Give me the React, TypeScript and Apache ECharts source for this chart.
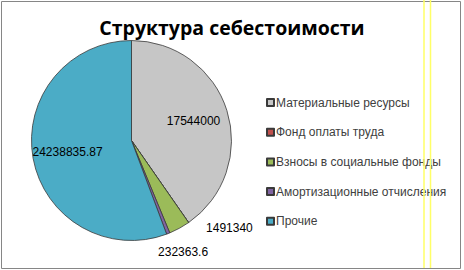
import React, { useEffect, useRef } from "react";
import * as echarts from "echarts";

const titleText = "Структура себестоимости";
const categories = [
  "Материальные ресурсы",
  "Фонд оплаты труда",
  "Взносы в социальные фонды",
  "Амортизационные отчисления",
  "Прочие",
];
const values = [17544000, 0, 1491340, 232363.6, 24238835.87];
const labelTexts = ["17544000", "", "1491340", "232363.6", "24238835.87"];
const colors = ["#c6c6c6", "#c0504d", "#9bbb59", "#8064a2", "#4bacc6"];
// which labels sit inside the slices, which outside
const insideLabel = [true, false, false, false, true];
const outsideLabel = [false, false, true, true, false];
const outsideOffsets: [number, number][] = [[0, 0], [0, 0], [37, -24], [5, -7], [0, 0]];

const FONT = "'Liberation Sans', Arial, sans-serif";

export default function App() {
  const ref = useRef<HTMLDivElement>(null);
  useEffect(() => {
    document.body.style.margin = "0";
    const chart = echarts.init(ref.current!, null, { renderer: "svg" });
    const center = [131.5, 140.5];
    const R = 100;
    const labelBase = { fontFamily: FONT, fontSize: 12, color: "#000", align: "center" };
    chart.setOption({
      animation: false,
      backgroundColor: "#ffffff",
      title: {
        text: titleText,
        left: 227,
        top: 12,
        textAlign: "center",
        textStyle: { fontFamily: "'Open Sans', sans-serif", fontWeight: "bold", fontSize: 19.5, color: "#000" },
      },
      legend: {
        orient: "vertical",
        left: 266,
        top: 96.5,
        padding: 0,
        itemWidth: 7,
        itemHeight: 7,
        itemGap: 17.7,
        icon: "rect",
        data: categories,
        selectedMode: false,
        textStyle: { fontFamily: FONT, fontSize: 12, color: "#404040", padding: [0, 0, 0, -3] },
      },
      graphic: [
        {
          type: "rect",
          shape: { x: 1.5, y: 1.5, width: 459, height: 267 },
          style: { fill: "none", stroke: "#868686", lineWidth: 1 },
          silent: true,
          z: 100,
        },
        {
          type: "line",
          shape: { x1: 424, y1: 0, x2: 424, y2: 268 },
          style: { stroke: "#ffff66", lineWidth: 1.5 },
          silent: true,
          z: 101,
        },
        {
          type: "line",
          shape: { x1: 430.5, y1: 0, x2: 430.5, y2: 268 },
          style: { stroke: "#ffff66", lineWidth: 1.5 },
          silent: true,
          z: 101,
        },
      ],
      series: [
        {
          type: "pie",
          center,
          radius: [0, R],
          startAngle: 90,
          clockwise: true,
          avoidLabelOverlap: false,
          label: { show: false },
          labelLine: { show: false },
          itemStyle: { borderColor: "#3a3a3a", borderWidth: 0.8 },
          emphasis: { disabled: true },
          data: categories.map((name, i) => ({
            name,
            value: values[i],
            itemStyle: { color: colors[i] },
          })),
        },
        {
          // transparent ring that carries the inside labels
          type: "pie",
          center,
          radius: [R * 0.24, R],
          startAngle: 90,
          clockwise: true,
          silent: true,
          avoidLabelOverlap: false,
          itemStyle: { color: "transparent", borderWidth: 0 },
          emphasis: { disabled: true },
          labelLine: { show: false },
          data: categories.map((name, i) => ({
            name: "in" + i,
            value: values[i],
            label: { ...labelBase, show: insideLabel[i], position: "inside", formatter: labelTexts[i] },
          })),
        },
        {
          // transparent ring outside the pie that carries the outside labels
          type: "pie",
          center,
          radius: [R * 1.1, R * 1.38],
          startAngle: 90,
          clockwise: true,
          silent: true,
          avoidLabelOverlap: false,
          itemStyle: { color: "transparent", borderWidth: 0 },
          emphasis: { disabled: true },
          labelLine: { show: false },
          data: categories.map((name, i) => ({
            name: "out" + i,
            value: values[i],
            label: {
              ...labelBase,
              show: outsideLabel[i],
              position: "inside",
              formatter: labelTexts[i],
              offset: outsideOffsets[i],
            },
          })),
        },
      ],
    });
    return () => chart.dispose();
  }, []);
  return <div ref={ref} style={{ width: 464, height: 270, position: "absolute", left: 0, top: 0 }} />;
}
